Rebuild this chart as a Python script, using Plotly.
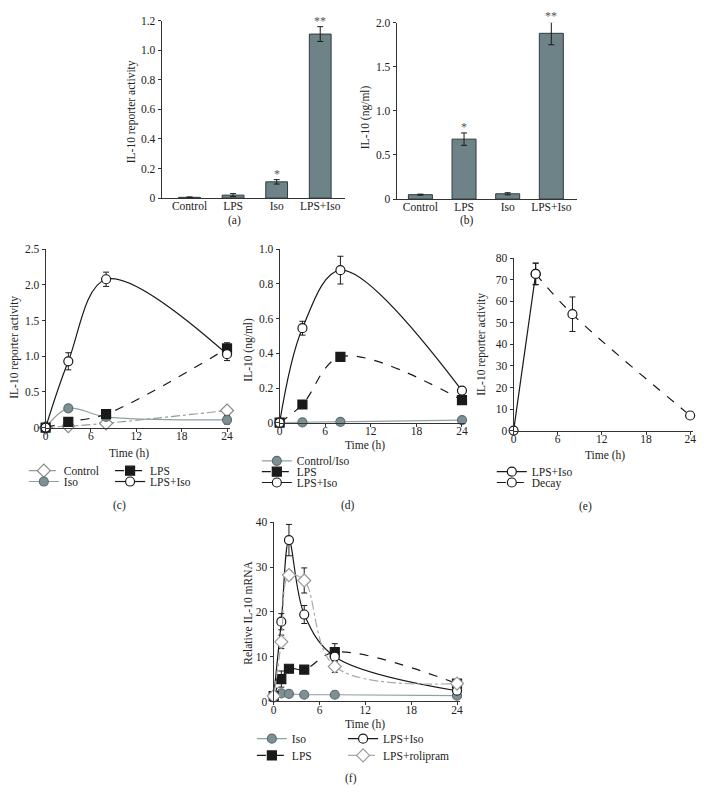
import plotly.graph_objects as go

W, H = 704, 805
FONT = "Liberation Serif"
FS = 11.5

# ---------------- data ----------------
bar_cats = ["Control", "LPS", "Iso", "LPS+Iso"]
a_vals = [0.005, 0.02, 0.11, 1.11]
a_err = [0.003, 0.01, 0.015, 0.05]
a_sig = ["", "", "*", "**"]
b_vals = [0.05, 0.68, 0.06, 1.88]
b_err = [0.006, 0.07, 0.012, 0.13]
b_sig = ["", "*", "", "**"]

c_time = [0, 3, 8, 24]
c_control = [0, 0.02, 0.06, 0.24]
c_control_err = [0, 0.01, 0.01, 0.05]
c_iso = [0, 0.27, 0.15, 0.11]
c_iso_err = [0, 0.02, 0.02, 0.06]
c_lps = [0, 0.08, 0.19, 1.11]
c_lps_err = [0, 0.01, 0.02, 0.08]
c_lpsiso = [0, 0.93, 2.08, 1.03]
c_lpsiso_err = [0, 0.12, 0.1, 0.09]

d_time = [0, 3, 8, 24]
d_ctrliso = [0, 0.002, 0.005, 0.015]
d_lps = [0, 0.105, 0.38, 0.13]
d_lps_err = [0, 0.005, 0.02, 0.01]
d_lpsiso = [0, 0.545, 0.88, 0.185]
d_lpsiso_err = [0, 0.04, 0.08, 0.01]

e_time_rise = [0, 3]
e_rise = [0, 72.7]
e_rise_err = [0, 5]
e_time_decay = [3, 8, 24]
e_decay = [72.7, 54, 7]
e_decay_err = [5, 8, 1]

f_time = [0, 1, 2, 4, 8, 24]
f_iso = [1.2, 1.8, 1.7, 1.5, 1.5, 1.3]
f_lps = [1.2, 5.0, 7.3, 7.1, 11.0, 4.0]
f_lps_err = [0, 1.8, 0.5, 0.4, 1.9, 0.5]
f_lpsiso = [1.2, 17.8, 36.0, 19.4, 10.0, 2.4]
f_lpsiso_err = [0, 1.8, 3.5, 2.0, 1.0, 0.3]
f_roli = [1.2, 13.3, 28.2, 27.0, 7.8, 4.0]
f_roli_err = [0, 1.5, 1.0, 2.8, 1.3, 0.3]

time_ticks = [0, 6, 12, 18, 24]

# ---------------- helpers ----------------
def xd(p0, p1):
    return [p0 / W, p1 / W]

def yd(top, bot):
    return [1 - bot / H, 1 - top / H]

BLACK = "#1a1a1a"
GRAY = "#7d9094"
GRAYLINE = "#8fa0a4"
BARC = "#6e8387"

fig = go.Figure()

def err(arr):
    return dict(type="data", array=arr, color=BLACK, thickness=1, width=3)

def axis_common():
    return dict(showline=True, linecolor="#333", linewidth=1, ticks="outside",
                ticklen=3, tickcolor="#333", showgrid=False, zeroline=False,
                tickfont=dict(family=FONT, size=FS, color="#222"))

layout = dict(width=W, height=H, margin=dict(l=0, r=0, t=0, b=0),
              plot_bgcolor="white", paper_bgcolor="white",
              font=dict(family=FONT, size=FS, color="#222"))

annotations = []

A_MAX, B_MAX = 1.2, 2.0

# ---- panel a
fig.add_trace(go.Bar(x=list(range(4)), y=a_vals, width=0.5, error_y=err(a_err),
                     marker=dict(color=BARC, line=dict(color="#2f3a3c", width=1)),
                     xaxis="x", yaxis="y", showlegend=False))
layout["xaxis"] = dict(axis_common(), domain=xd(160, 345), range=[-0.64, 3.57],
                       tickvals=list(range(4)), ticktext=bar_cats, ticks="", anchor="y",
                       ticklabelstandoff=-3)
layout["yaxis"] = dict(axis_common(), domain=yd(15, 195), range=[0, A_MAX],
                       tickvals=[0, 0.2, 0.4, 0.6, 0.8, 1.0, 1.2],
                       ticktext=["0", "0.2", "0.4", "0.6", "0.8", "1.0", "1.2"], anchor="x")

# ---- panel b
fig.add_trace(go.Bar(x=list(range(4)), y=b_vals, width=0.55, error_y=err(b_err),
                     marker=dict(color=BARC, line=dict(color="#2f3a3c", width=1)),
                     xaxis="x2", yaxis="y2", showlegend=False))
layout["xaxis2"] = dict(axis_common(), domain=xd(397, 579), range=[-0.545, 3.59],
                        tickvals=list(range(4)), ticktext=bar_cats, ticks="", anchor="y2",
                        ticklabelstandoff=-3)
layout["yaxis2"] = dict(axis_common(), domain=yd(17, 196), range=[0, B_MAX],
                        tickvals=[0, 0.5, 1.0, 1.5, 2.0],
                        ticktext=["0", "0.5", "1.0", "1.5", "2.0"], anchor="x2")

# significance marks (placed on top of each error bar)
for i in range(4):
    if a_sig[i]:
        annotations.append(dict(x=i, y=(a_vals[i] + a_err[i]) / A_MAX, xref="x", yref="y domain",
                                text=a_sig[i], showarrow=False, yanchor="bottom", yshift=-3,
                                font=dict(family=FONT, size=12, color="#555")))
    if b_sig[i]:
        annotations.append(dict(x=i, y=(b_vals[i] + b_err[i]) / B_MAX, xref="x2", yref="y2 domain",
                                text=b_sig[i], showarrow=False, yanchor="bottom", yshift=-3,
                                font=dict(family=FONT, size=12, color="#555")))

legend_specs = {}
leg_counter = [0]

def new_legend(text_x, center_y):
    leg_counter[0] += 1
    key = "legend" if leg_counter[0] == 1 else "legend%d" % leg_counter[0]
    legend_specs[key] = dict(x=(text_x - 42) / W, y=1 - (center_y - 14) / H,
                             xanchor="left", yanchor="top", bgcolor="rgba(0,0,0,0)",
                             font=dict(family=FONT, size=FS, color="#222"),
                             itemwidth=30, tracegroupgap=0)
    return key

# ---- line panel helper
def line_tr(x, y, xa, ya, name, legpos, sym, mcolor, mline, lcolor, dash, shape="spline",
            e=None, size=9):
    return go.Scatter(x=x, y=y, xaxis=xa, yaxis=ya, name=name, legend=new_legend(*legpos),
                      mode="lines+markers", cliponaxis=False,
                      line=dict(color=lcolor, width=1.2, dash=dash, shape=shape),
                      marker=dict(symbol=sym, size=size, color=mcolor,
                                  line=dict(color=mline, width=1.2)),
                      error_y=err(e) if e is not None else None)

def time_axis(p0, p1, anchor):
    return dict(axis_common(), domain=xd(p0, p1), range=[0, 24.4], tickvals=time_ticks,
                anchor=anchor, ticklabelstandoff=-5)

# ---- panel c (x3, y3)
fig.add_trace(line_tr(c_time, c_control, "x3", "y3", "Control", (63, 471), "diamond", "white", "#888",
                      "#999", "dashdot", e=c_control_err, size=10))
fig.add_trace(line_tr(c_time, c_iso, "x3", "y3", "Iso", (63, 482), "circle", GRAY, "#5d6e72",
                      GRAYLINE, "solid", e=c_iso_err))
fig.add_trace(line_tr(c_time, c_lps, "x3", "y3", "LPS", (150, 471), "square", BLACK, BLACK,
                      BLACK, "dash", e=c_lps_err))
fig.add_trace(line_tr(c_time, c_lpsiso, "x3", "y3", "LPS+Iso", (150, 482), "circle", "white", BLACK,
                      BLACK, "solid", e=c_lpsiso_err))
layout["xaxis3"] = time_axis(43, 229, "y3")
layout["yaxis3"] = dict(axis_common(), domain=yd(247, 428), range=[0, 2.5],
                        tickvals=[0, 0.5, 1.0, 1.5, 2.0, 2.5],
                        ticktext=["0", "0.5", "1.0", "1.5", "2.0", "2.5"], anchor="x3")

# ---- panel d (x4, y4)
fig.add_trace(line_tr(d_time, d_ctrliso, "x4", "y4", "Control/Iso", (298, 461), "circle", GRAY,
                      "#5d6e72", GRAYLINE, "solid", shape="linear"))
fig.add_trace(line_tr(d_time, d_lps, "x4", "y4", "LPS", (298, 472), "square", BLACK, BLACK,
                      BLACK, "dash", e=d_lps_err))
fig.add_trace(line_tr(d_time, d_lpsiso, "x4", "y4", "LPS+Iso", (298, 483), "circle", "white", BLACK,
                      BLACK, "solid", e=d_lpsiso_err))
layout["xaxis4"] = time_axis(279, 466, "y4")
layout["yaxis4"] = dict(axis_common(), domain=yd(247, 423), range=[0, 1.0],
                        tickvals=[0, 0.2, 0.4, 0.6, 0.8, 1.0],
                        ticktext=["0", "0.2", "0.4", "0.6", "0.8", "1.0"], anchor="x4")

# ---- panel e (x5, y5)
fig.add_trace(line_tr(e_time_rise, e_rise, "x5", "y5", "LPS+Iso", (535, 472), "circle", "white",
                      BLACK, BLACK, "solid", shape="linear", e=e_rise_err))
fig.add_trace(line_tr(e_time_decay, e_decay, "x5", "y5", "Decay", (535, 483), "circle", "white",
                      BLACK, BLACK, "dash", e=e_decay_err))
layout["xaxis5"] = time_axis(515, 696, "y5")
layout["yaxis5"] = dict(axis_common(), domain=yd(256, 431), range=[0, 80],
                        tickvals=[0, 10, 20, 30, 40, 50, 60, 70, 80], anchor="x5")

# ---- panel f (x6, y6)
fig.add_trace(line_tr(f_time, f_iso, "x6", "y6", "Iso", (293, 743), "circle", GRAY, "#5d6e72",
                      GRAYLINE, "solid", shape="linear"))
fig.add_trace(line_tr(f_time, f_lps, "x6", "y6", "LPS", (293, 760), "square", BLACK, BLACK,
                      BLACK, "dash", e=f_lps_err))
fig.add_trace(line_tr(f_time, f_lpsiso, "x6", "y6", "LPS+Iso", (385, 743), "circle", "white", BLACK,
                      BLACK, "solid", e=f_lpsiso_err))
fig.add_trace(line_tr(f_time, f_roli, "x6", "y6", "LPS+rolipram", (385, 760), "diamond", "white",
                      "#999", "#aaa", "dashdot", e=f_roli_err, size=10))
layout["xaxis6"] = time_axis(273, 461, "y6")
layout["yaxis6"] = dict(axis_common(), domain=yd(524, 706), range=[0, 40],
                        tickvals=[0, 10, 20, 30, 40], anchor="x6")

layout.update(legend_specs)

# ---- texts
def ann(text, px, py, angle=0, size=FS):
    annotations.append(dict(text=text, x=px / W, y=1 - py / H, xref="paper", yref="paper",
                            showarrow=False, textangle=angle, xanchor="center", yanchor="middle",
                            font=dict(family=FONT, size=size, color="#222")))

ann("IL-10 reporter activity", 130, 107, -90)
ann("IL-10 (ng/ml)", 365, 113, -90)
ann("IL-10 reporter activity", 12, 346, -90)
ann("IL-10 (ng/ml)", 248, 349, -90)
ann("IL-10 reporter activity", 483, 343, -90)
ann("Relative IL-10 mRNA", 247, 616, -90)
ann("Time (h)", 127, 454)
ann("Time (h)", 365, 446)
ann("Time (h)", 607, 456)
ann("Time (h)", 365, 729)
ann("(a)", 233, 218)
ann("(b)", 468, 218)
ann("(c)", 117, 507)
ann("(d)", 348, 507)
ann("(e)", 588, 508)
ann("(f)", 351, 784)

layout["annotations"] = annotations
fig.update_layout(**layout)
fig.write_html("out.html", config={"displayModeBar": False},
               post_script="document.body.style.margin='0px';document.body.style.overflow='hidden';")
